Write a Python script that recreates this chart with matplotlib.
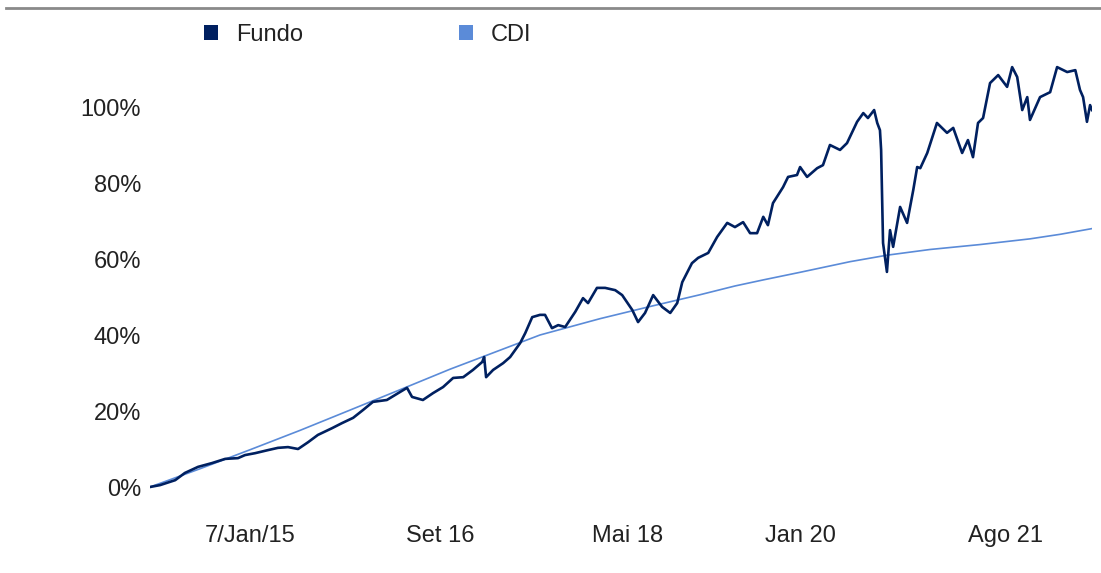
import numpy as np
import matplotlib
matplotlib.use("Agg")
import matplotlib.pyplot as plt
from matplotlib.lines import Line2D
from matplotlib.patches import Patch

plt.rcParams['font.family'] = ['Liberation Sans', 'DejaVu Sans']

# data de inicio da serie e dias corridos desde o inicio
inicio = np.datetime64('2015-01-07')

dias_fundo = [0, 26, 65, 90, 124, 160, 194, 227, 245, 271, 304, 330, 356, 382,
              408, 433, 470, 495, 524, 550, 575, 611, 645, 663, 676, 704, 730,
              756, 782, 808, 833, 857, 862, 867, 885, 911, 929, 955, 968, 986,
              1006, 1019, 1037, 1053, 1071, 1097, 1117, 1130, 1153, 1174, 1200,
              1218, 1244, 1259, 1277, 1298, 1321, 1342, 1360, 1373, 1398, 1414,
              1440, 1463, 1489, 1509, 1530, 1548, 1566, 1582, 1594, 1607, 1633,
              1646, 1669, 1677, 1695, 1721, 1736, 1754, 1780, 1798, 1824, 1840,
              1852, 1868, 1876, 1883, 1886, 1891, 1901, 1909, 1917, 1935, 1953,
              1969, 1979, 1987, 2005, 2030, 2056, 2072, 2095, 2110, 2123, 2136,
              2149, 2167, 2188, 2211, 2224, 2237, 2250, 2263, 2270, 2296, 2322,
              2340, 2366, 2387, 2399, 2407, 2417, 2425, 2430]

# rentabilidade acumulada do fundo (%)
fundo = [0.0, 0.5, 1.8, 3.7, 5.3, 6.3, 7.4, 7.6, 8.4, 8.9, 9.7, 10.3, 10.5, 10.0,
         11.8, 13.7, 15.5, 16.8, 18.2, 20.3, 22.4, 22.9, 25.0, 26.1, 23.7, 22.9,
         24.7, 26.3, 28.7, 28.9, 30.8, 32.9, 34.2, 28.9, 30.8, 32.6, 34.2, 37.9,
         40.5, 44.7, 45.3, 45.3, 41.8, 42.6, 42.1, 46.1, 49.7, 48.4, 52.4, 52.4,
         51.8, 50.5, 46.6, 43.4, 45.8, 50.5, 47.4, 45.8, 48.4, 53.9, 58.9, 60.3,
         61.6, 65.8, 69.5, 68.4, 69.7, 66.8, 66.8, 71.1, 68.9, 74.7, 78.9, 81.6,
         82.1, 84.2, 81.6, 83.9, 84.7, 90.0, 88.7, 90.5, 96.1, 98.4, 97.1, 99.2,
         95.8, 93.9, 88.7, 64.2, 56.6, 67.6, 63.2, 73.7, 69.5, 78.2, 84.2, 83.9,
         87.9, 95.8, 93.2, 94.5, 87.9, 91.3, 86.8, 95.8, 97.1, 106.3, 108.4,
         105.3, 110.5, 107.9, 99.2, 102.6, 96.6, 102.6, 103.9, 110.5, 109.2,
         109.7, 104.5, 102.6, 96.1, 100.5, 99.2]

dias_cdi = [0, 129, 258, 387, 503, 645, 774, 903, 1006, 1161, 1290, 1419, 1509,
            1582, 1677, 1806, 1901, 2012, 2141, 2270, 2348, 2430]
cdi = [0.0, 4.8, 9.8, 14.9, 19.7, 25.6, 31.0, 36.0, 40.0, 44.3, 47.5, 50.6, 52.9,
       54.5, 56.5, 59.3, 61.0, 62.5, 63.8, 65.3, 66.5, 68.0]

# rotulos do eixo x (posicao em dias desde o inicio)
dias_rotulos = [258, 748, 1233, 1677, 2206]
rotulos_x = ['7/Jan/15', 'Set 16', 'Mai 18', 'Jan 20', 'Ago 21']
valores_y = [0, 20, 40, 60, 80, 100]

cor_fundo = '#002060'
cor_cdi = '#5b8bd8'
cor_texto = '#222222'

datas_fundo = inicio + np.array(dias_fundo)
datas_cdi = inicio + np.array(dias_cdi)
datas_rotulos = inicio + np.array(dias_rotulos)

W, H = 1101, 573
fig = plt.figure(figsize=(W / 100, H / 100), dpi=100)
ax = fig.add_axes([150 / W, 67 / H, 942 / W, 456 / H])

ax.plot(datas_cdi, cdi, color=cor_cdi, lw=1.2, zorder=2)
ax.plot(datas_fundo, fundo, color=cor_fundo, lw=1.9, zorder=3)

ax.set_xlim(inicio, inicio + 2430)
ax.set_ylim(-5, 115)
for s in ax.spines.values():
    s.set_visible(False)

ax.set_yticks(valores_y)
ax.set_yticklabels([f'{v}%' for v in valores_y])
ax.set_xticks(datas_rotulos)
ax.set_xticklabels(rotulos_x)
ax.tick_params(axis='both', length=0, labelsize=17, colors=cor_texto)
ax.tick_params(axis='y', pad=6.5)
ax.tick_params(axis='x', pad=14)

# linha cinza no topo
fig.add_artist(Line2D([0.005, 1.0], [1 - 8 / H, 1 - 8 / H], transform=fig.transFigure,
                      color='#8a8a8a', lw=2))

handles = [Patch(facecolor=cor_fundo, edgecolor='none', label='Fundo'),
           Patch(facecolor=cor_cdi, edgecolor='none', label='CDI')]
leg = fig.legend(handles=handles, loc='center left', bbox_to_anchor=(204 / W, 1 - 35 / H),
                 ncol=2, frameon=False, fontsize=17, handlelength=0.6, handleheight=0.6,
                 handletextpad=0.75, columnspacing=6.6, borderpad=0, borderaxespad=0)
for t in leg.get_texts():
    t.set_color(cor_texto)

fig.savefig('out.png', dpi=100, facecolor='white')
